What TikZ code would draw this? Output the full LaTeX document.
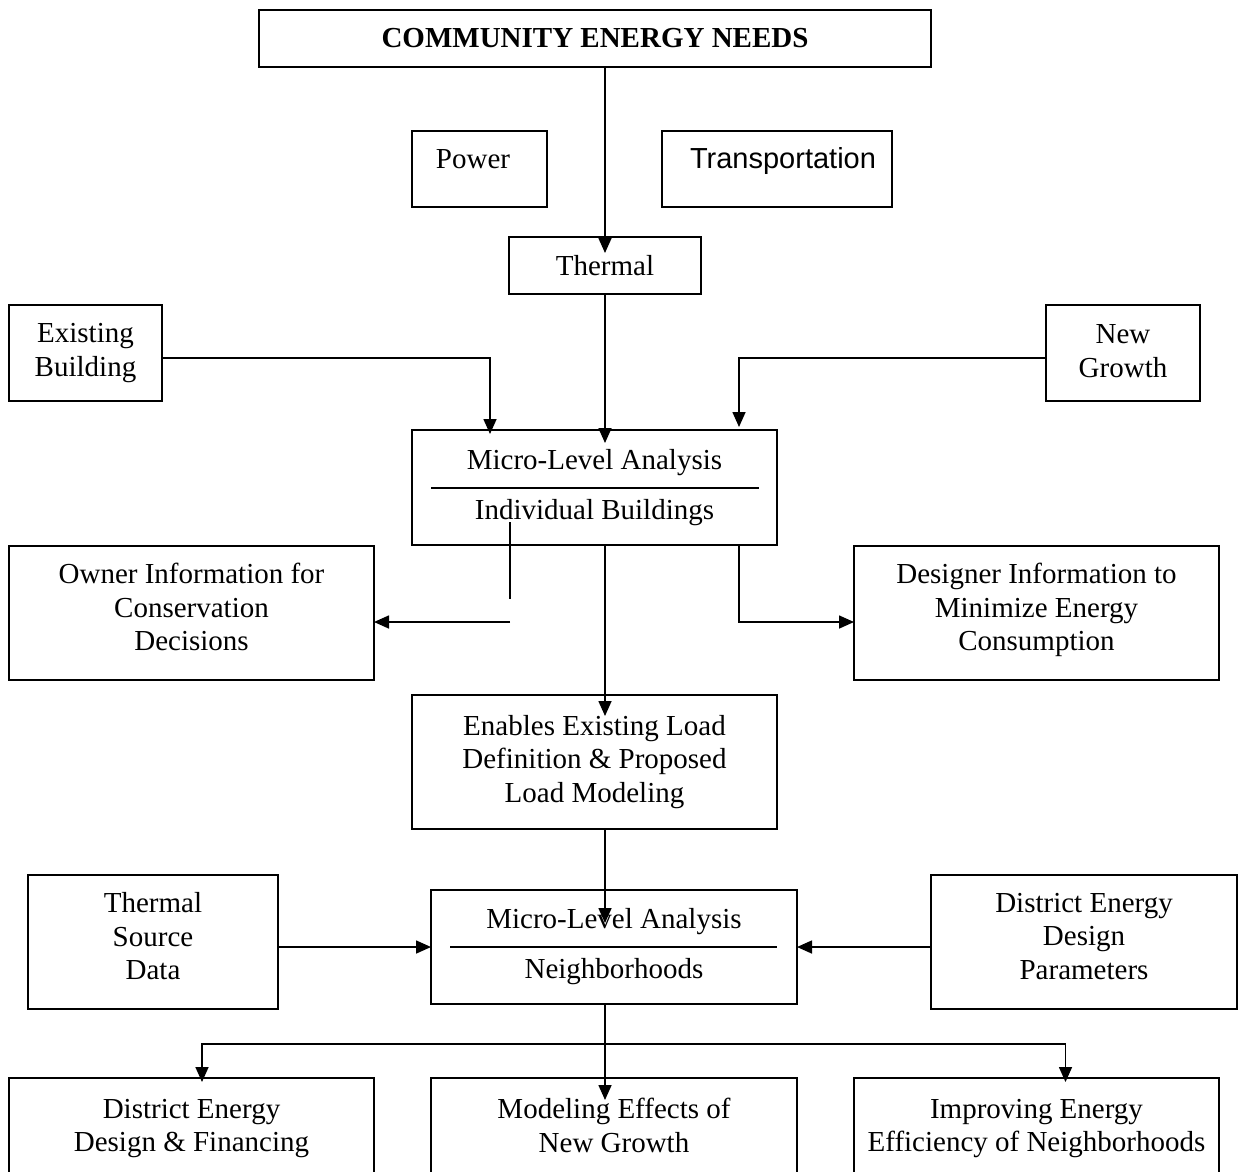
\documentclass[tikz,border=0pt]{standalone}
\usepackage{fontspec}
\setmainfont{Liberation Serif}
\newfontfamily\arialfont{Liberation Sans}
\usetikzlibrary{arrows.meta,calc}
\begin{document}
\begin{tikzpicture}[x=1pt,y=-1pt,
  box/.style={draw, line width=1.8pt, rectangle, inner sep=0pt, outer sep=0pt, align=center, font=\fontsize{29}{33.5}\selectfont},
  txt/.style={inner sep=0pt, font=\fontsize{29}{33.5}\selectfont},
  arr/.style={line width=1.6pt, -{Triangle[length=15pt,width=13pt]}},
  ln/.style={line width=1.6pt},
]
\useasboundingbox (0,0) rectangle (1238,1171);
\clip (0,0) rectangle (1238,1171);

\node[box, minimum width=672pt, minimum height=57pt, font=\fontsize{29}{33.5}\selectfont\bfseries] (title) at (595,38.5) {COMMUNITY ENERGY NEEDS};

\node[box, minimum width=135pt, minimum height=76pt] (power) at (479.5,169) {};
\node[txt, anchor=base] (powertxt) at (473,168) {Power};
\node[box, minimum width=230pt, minimum height=76pt] (transp) at (777,169) {};
\node[txt, anchor=base, font=\fontsize{29}{33.5}\arialfont] (transptxt) at (783,168) {Transportation};

\node[box, minimum width=192pt, minimum height=57pt] (thermal) at (605,265.5) {Thermal};
\node[box, minimum width=153pt, minimum height=96pt] (existing) at (85.5,353) {Existing\\Building};
\node[box, minimum width=154pt, minimum height=96pt, text depth=4pt] (newgrowth) at (1123,353) {New\\Growth};
\node[box, minimum width=365pt, minimum height=115pt] (microIB) at (594.5,487.5) {Micro-Level Analysis\\[16.5pt]Individual Buildings};

\node[box, minimum width=365pt, minimum height=134pt, text depth=12pt] (owner) at (191.5,613) {Owner Information for\\Conservation\\Decisions};
\node[box, minimum width=365pt, minimum height=134pt, text depth=12pt] (designer) at (1036.5,613) {Designer Information to\\Minimize Energy\\Consumption};
\node[box, minimum width=365pt, minimum height=134pt] (enables) at (594.5,762) {Enables Existing Load\\Definition \& Proposed\\Load Modeling};

\node[box, minimum width=250pt, minimum height=134pt, text depth=12pt] (tsrc) at (153,942) {Thermal\\Source\\Data};
\node[box, minimum width=366pt, minimum height=114pt] (microN) at (614,947) {Micro-Level Analysis\\[16.5pt]Neighborhoods};
\node[box, minimum width=306pt, minimum height=134pt, text depth=12pt] (params) at (1084,942) {District Energy\\Design\\Parameters};

\node[box, minimum width=365pt, minimum height=94.5pt, text depth=0pt] (bleft) at (191.5,1125.25) {District Energy\\Design \& Financing};
\node[box, minimum width=366pt, minimum height=94.5pt, text depth=0pt] (bmid) at (614,1125.25) {Modeling Effects of\\New Growth};
\node[box, minimum width=365pt, minimum height=94.5pt, text depth=0pt] (bright) at (1036.5,1125.25) {Improving Energy\\Efficiency of Neighborhoods};

% divider lines
\draw[ln] ($(microIB.west)+(19,0.5)$) -- ($(microIB.east)+(-18,0.5)$);
\draw[ln] ($(microN.west)+(19,0)$) -- ($(microN.east)+(-20,0)$);

% connectors
\coordinate (cx) at (605,0);
\draw[arr] (title.south -| cx) -- ($(thermal.north -| cx)+(0,16)$);
\draw[arr] (thermal.south) -- ($(microIB.north -| cx)+(0,13)$);
\draw[arr] ($(existing.east)+(0,5)$) -| ($(microIB.north west)+(78,4)$);
\draw[arr] ($(newgrowth.west)+(0,5)$) -| ($(microIB.north east)+(-38,-3)$);
\draw[ln] ($(microIB.south west)+(98,-23)$) -- ($(microIB.south west)+(98,54)$);
\coordinate (obend) at ($(microIB.south west)+(98,77)$);
\draw[arr] (obend) -- (obend -| owner.east);
\draw[arr] ($(microIB.south east)+(-38,0)$) |- (designer.west |- obend);
\draw[arr] (microIB.south -| cx) -- ($(enables.north -| cx)+(0,21)$);
\draw[arr] (enables.south -| cx) -- ($(microN.north -| cx)+(0,33)$);
\draw[arr] (tsrc.east |- microN.west) -- (microN.west);
\draw[arr] (params.west |- microN.east) -- (microN.east);
\coordinate (bus) at ($(microN.south -| cx)+(0,40)$);
\draw[arr] (microN.south -| cx) -- ($(bmid.north -| cx)+(0,22)$);
\draw[arr] (bus) -| ($(bleft.north)+(10.5,4)$);
\draw[arr] (bus) -| ($(bright.north)+(29,4)$);
\end{tikzpicture}
\end{document}
